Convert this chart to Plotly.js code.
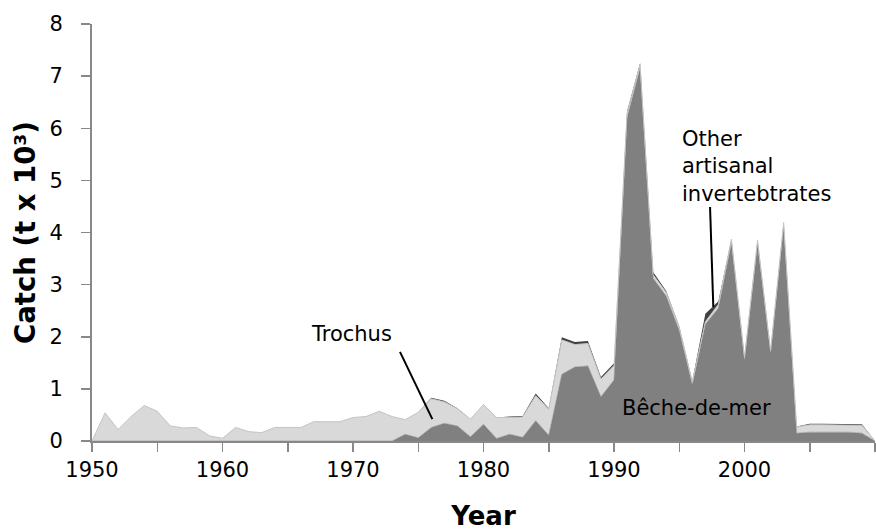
<!DOCTYPE html>
<html>
<head>
<meta charset="utf-8">
<script src="https://cdn.plot.ly/plotly-3.0.1.min.js"></script>
<style>html,body{margin:0;padding:0;background:#fff;}#chart{width:876px;height:531px;}</style>
</head>
<body>
<div id="chart"></div>
<script>
// Years (category axis)
const years = [1950,1951,1952,1953,1954,1955,1956,1957,1958,1959,
  1960,1961,1962,1963,1964,1965,1966,1967,1968,1969,
  1970,1971,1972,1973,1974,1975,1976,1977,1978,1979,
  1980,1981,1982,1983,1984,1985,1986,1987,1988,1989,
  1990,1991,1992,1993,1994,1995,1996,1997,1998,1999,
  2000,2001,2002,2003,2004,2005,2006,2007,2008,2009,2010];

// Catch (t x 10^3)
const becheDeMer = [0,0,0,0,0,0,0,0,0,0,
  0,0,0,0,0,0,0,0,0,0,
  0,0,0,0,0.13,0.06,0.26,0.34,0.29,0.08,
  0.32,0.05,0.13,0.07,0.39,0.11,1.28,1.42,1.44,0.85,
  1.17,6.20,7.15,3.12,2.78,2.12,1.08,2.24,2.55,3.80,
  1.55,3.78,1.68,4.12,0.15,0.17,0.17,0.17,0.17,0.15,0];

const trochus = [0,0.54,0.22,0.47,0.68,0.57,0.29,0.25,0.26,0.10,
  0.05,0.26,0.18,0.16,0.26,0.26,0.26,0.37,0.37,0.37,
  0.45,0.47,0.57,0.47,0.28,0.49,0.55,0.41,0.33,0.34,
  0.38,0.40,0.32,0.39,0.48,0.50,0.66,0.43,0.43,0.34,
  0.28,0.08,0.07,0.07,0.07,0.06,0.05,0.05,0.07,0.07,
  0.05,0.07,0.05,0.07,0.12,0.14,0.14,0.14,0.14,0.15,0];

const otherInvert = [0,0,0,0,0,0,0,0,0,0,
  0,0,0,0,0,0,0,0,0,0,
  0,0,0,0,0,0,0.02,0.02,0.01,0,
  0,0,0.02,0.02,0.04,0.02,0.05,0.05,0.05,0.04,
  0.04,0.04,0.03,0.05,0.03,0.02,0.02,0.15,0.06,0.01,
  0.01,0.01,0.01,0.01,0.01,0.02,0.02,0.02,0.02,0.02,0];

const tickYears = [1950,1955,1960,1965,1970,1975,1980,1985,1990,1995,2000,2005,2010];
const tickLabels = ['1950','','1960','','1970','','1980','','1990','','2000','',''];
const yTicks = [0,1,2,3,4,5,6,7,8];

const FONT = 'DejaVu Sans, Verdana, sans-serif';

const traces = [
  {x: years, y: becheDeMer, name: 'Bêche-de-mer', type: 'scatter', mode: 'lines',
   stackgroup: 'one', fillcolor: '#808080', line: {color: '#808080', width: 0.5}},
  {x: years, y: trochus, name: 'Trochus', type: 'scatter', mode: 'lines',
   stackgroup: 'one', fillcolor: '#d9d9d9', line: {color: '#c4c4c4', width: 1}},
  {x: years, y: otherInvert, name: 'Other artisanal invertebtrates', type: 'scatter', mode: 'lines',
   stackgroup: 'one', fillcolor: '#404040', line: {color: '#404040', width: 0}}
];

const layout = {
  width: 876, height: 531,
  margin: {l: 92, r: 1, t: 24, b: 90},
  paper_bgcolor: '#fff', plot_bgcolor: '#fff',
  showlegend: false,
  hovermode: false,
  font: {family: FONT, size: 21, color: '#000'},
  xaxis: {
    range: [1950, 2010], tickmode: 'array', tickvals: tickYears, ticktext: tickLabels,
    ticks: 'outside', ticklen: 9, tickwidth: 1.5, tickcolor: '#888',
    showline: true, linecolor: '#888', linewidth: 2, showgrid: false, zeroline: false,
    tickfont: {family: FONT, size: 21, color: '#000'},
    title: {text: 'Year', font: {family: FONT, size: 26, color: '#000', weight: 'bold'}, standoff: 26}
  },
  yaxis: {
    range: [0, 8], tickmode: 'array', tickvals: yTicks,
    ticks: 'outside', ticklen: 9, tickwidth: 1.5, tickcolor: '#888',
    showline: true, linecolor: '#888', linewidth: 2, showgrid: false, zeroline: false,
    ticklabelstandoff: 14,
    tickfont: {family: FONT, size: 21, color: '#000'},
    title: {text: 'Catch (t x 10³)', font: {family: FONT, size: 27.5, color: '#000', weight: 'bold'}, standoff: 6}
  },
  annotations: [
    {x: 1969.9, y: 2.05, xref: 'x', yref: 'y', text: 'Trochus', showarrow: false,
     xanchor: 'center', yanchor: 'middle', font: {family: FONT, size: 21, color: '#000'}},
    {x: 1996.32, y: 0.63, xref: 'x', yref: 'y', text: 'Bêche-de-mer', showarrow: false,
     xanchor: 'center', yanchor: 'middle', font: {family: FONT, size: 21, color: '#000'}},
    {x: 1995.06, y: 5.27, xref: 'x', yref: 'y', text: 'Other<br>artisanal<br>invertebtrates', showarrow: false,
     xanchor: 'left', yanchor: 'middle', align: 'left', font: {family: FONT, size: 21, color: '#000'}}
  ],
  shapes: [
    {type: 'line', xref: 'x', yref: 'y', x0: 1973.6, y0: 1.71, x1: 1976.08, y1: 0.42,
     line: {color: '#000', width: 2}},
    {type: 'line', xref: 'x', yref: 'y', x0: 1997.36, y0: 4.49, x1: 1997.61, y1: 2.57,
     line: {color: '#000', width: 2}}
  ]
};

Plotly.newPlot('chart', traces, layout, {displayModeBar: false, staticPlot: true});
</script>
</body>
</html>
